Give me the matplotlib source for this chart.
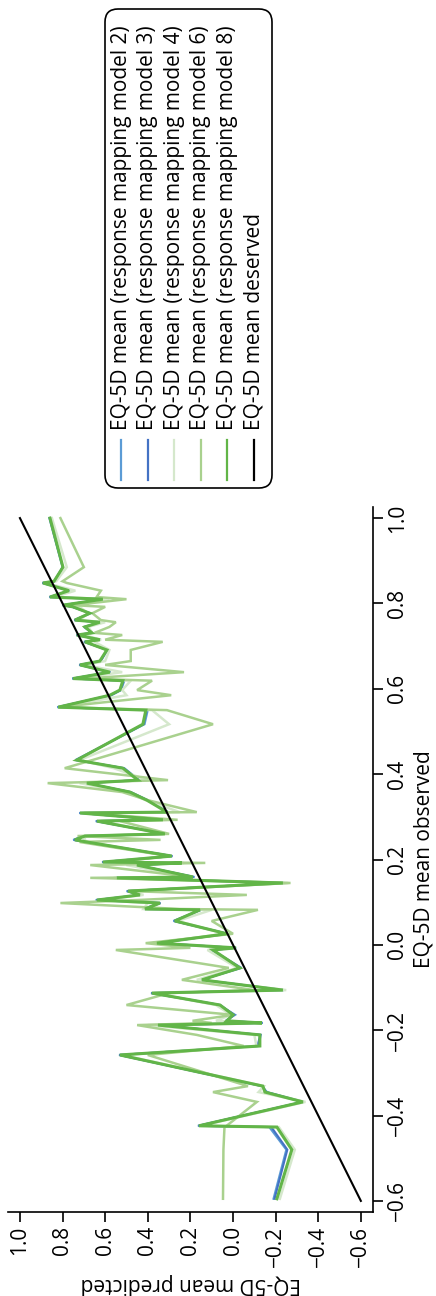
import matplotlib
matplotlib.use('Agg')
import matplotlib.pyplot as plt
from matplotlib.patches import FancyBboxPatch
from matplotlib.lines import Line2D

plt.rcParams['font.family'] = ['Open Sans', 'DejaVu Sans']

# observed EQ-5D means (sorted), shared by all models
observed = [-0.595, -0.480, -0.427, -0.424, -0.368, -0.345, -0.331, -0.258, -0.237, -0.211,
            -0.188, -0.183, -0.178, -0.164, -0.141, -0.113, -0.106, -0.082, -0.054, -0.012,
            -0.007, 0.004, 0.026, 0.056, 0.082, 0.084, 0.098, 0.105, 0.117, 0.126,
            0.145, 0.157, 0.159, 0.187, 0.192, 0.194, 0.208, 0.241, 0.246, 0.255,
            0.260, 0.290, 0.293, 0.309, 0.311, 0.339, 0.358, 0.379, 0.386, 0.414,
            0.433, 0.517, 0.550, 0.557, 0.585, 0.597, 0.619, 0.624, 0.639, 0.656,
            0.665, 0.691, 0.710, 0.715, 0.726, 0.731, 0.745, 0.756, 0.761, 0.777,
            0.792, 0.796, 0.810, 0.815, 0.830, 0.848, 0.852, 0.885, 1.000]

pred_m2 = [-0.190, -0.250, -0.170, 0.165, -0.330, -0.160, -0.135, 0.535, -0.120, -0.130,
           0.355, -0.140, 0.035, -0.010, 0.065, 0.385, -0.240, 0.150, -0.040, 0.100,
           -0.015, 0.360, 0.025, 0.280, 0.150, 0.420, 0.345, 0.645, 0.430, 0.500,
           -0.240, 0.550, 0.180, 0.455, 0.235, 0.615, 0.285, 0.690, 0.750, 0.700,
           0.315, 0.645, 0.325, 0.722, 0.305, 0.400, 0.480, 0.690, 0.440, 0.510,
           0.740, 0.415, 0.400, 0.825, 0.570, 0.525, 0.510, 0.755, 0.575, 0.722,
           0.620, 0.590, 0.700, 0.620, 0.735, 0.660, 0.700, 0.620, 0.745, 0.670,
           0.755, 0.800, 0.605, 0.862, 0.765, 0.895, 0.838, 0.800, 0.862]

pred_m3 = [-0.195, -0.255, -0.180, 0.162, -0.325, -0.155, -0.138, 0.533, -0.115, -0.128,
           0.350, -0.138, 0.030, -0.005, 0.060, 0.383, -0.238, 0.148, -0.035, 0.096,
           -0.012, 0.355, 0.027, 0.276, 0.152, 0.416, 0.340, 0.642, 0.433, 0.497,
           -0.238, 0.548, 0.185, 0.452, 0.238, 0.613, 0.284, 0.688, 0.746, 0.697,
           0.318, 0.642, 0.327, 0.720, 0.307, 0.402, 0.482, 0.688, 0.443, 0.514,
           0.736, 0.420, 0.405, 0.822, 0.575, 0.528, 0.514, 0.753, 0.576, 0.720,
           0.622, 0.591, 0.697, 0.622, 0.734, 0.661, 0.697, 0.622, 0.744, 0.671,
           0.753, 0.799, 0.608, 0.860, 0.768, 0.893, 0.839, 0.799, 0.860]

pred_m4 = [-0.220, -0.290, -0.215, 0.150, -0.340, -0.120, -0.145, 0.520, -0.110, -0.100,
           0.400, -0.120, 0.080, 0.010, 0.080, 0.370, -0.250, 0.170, -0.020, 0.120,
           0.000, 0.370, 0.040, 0.260, 0.100, 0.420, 0.400, 0.620, 0.420, 0.480,
           -0.260, 0.560, 0.200, 0.500, 0.230, 0.600, 0.300, 0.680, 0.700, 0.690,
           0.330, 0.620, 0.310, 0.710, 0.250, 0.410, 0.500, 0.720, 0.400, 0.560,
           0.720, 0.300, 0.380, 0.820, 0.500, 0.520, 0.480, 0.740, 0.520, 0.700,
           0.600, 0.580, 0.650, 0.620, 0.700, 0.660, 0.680, 0.600, 0.720, 0.680,
           0.720, 0.790, 0.580, 0.840, 0.740, 0.880, 0.830, 0.780, 0.850]

pred_m6 = [0.047, 0.045, 0.040, 0.030, -0.112, 0.094, -0.070, 0.400, -0.050, 0.170,
           0.450, 0.100, 0.190, 0.000, 0.500, 0.300, -0.100, 0.240, 0.020, 0.550,
           0.200, 0.410, 0.000, 0.100, -0.117, 0.250, 0.810, 0.450, -0.065, 0.490,
           -0.270, 0.670, 0.190, 0.670, 0.130, 0.550, 0.300, 0.720, 0.340, 0.730,
           0.300, 0.530, 0.260, 0.700, 0.170, 0.400, 0.520, 0.870, 0.305, 0.790,
           0.660, 0.094, 0.310, 0.820, 0.290, 0.450, 0.380, 0.700, 0.230, 0.600,
           0.480, 0.480, 0.330, 0.600, 0.520, 0.650, 0.580, 0.550, 0.620, 0.660,
           0.600, 0.750, 0.500, 0.640, 0.620, 0.780, 0.800, 0.700, 0.810]

pred_m8 = [-0.206, -0.276, -0.206, 0.160, -0.328, -0.150, -0.140, 0.531, -0.126, -0.126,
           0.352, -0.136, 0.029, 0.000, 0.061, 0.381, -0.234, 0.146, -0.032, 0.094,
           -0.014, 0.357, 0.029, 0.273, 0.155, 0.413, 0.343, 0.639, 0.437, 0.493,
           -0.234, 0.545, 0.188, 0.451, 0.240, 0.611, 0.287, 0.686, 0.742, 0.695,
           0.320, 0.639, 0.329, 0.718, 0.310, 0.404, 0.484, 0.686, 0.446, 0.517,
           0.733, 0.423, 0.409, 0.820, 0.578, 0.531, 0.517, 0.751, 0.578, 0.718,
           0.625, 0.592, 0.695, 0.625, 0.733, 0.662, 0.695, 0.625, 0.742, 0.672,
           0.751, 0.798, 0.611, 0.859, 0.770, 0.892, 0.840, 0.798, 0.859]

# line of equality (observed = predicted)
identity = [-0.6, 1.0]

ticks = [-0.6, -0.4, -0.2, 0.0, 0.2, 0.4, 0.6, 0.8, 1.0]
tick_labels = ['\u22120.6', '\u22120.4', '\u22120.2', '0.0', '0.2', '0.4', '0.6', '0.8', '1.0']

labels = ['EQ-5D mean (response mapping model 2)',
          'EQ-5D mean (response mapping model 3)',
          'EQ-5D mean (response mapping model 4)',
          'EQ-5D mean (response mapping model 6)',
          'EQ-5D mean (response mapping model 8)',
          'EQ-5D mean deserved']
colors = ['#5b9bd5', '#4472c4', '#d5e8cc', '#a9d18e', '#62b548', 'black']
widths = [1.5, 1.5, 1.8, 1.8, 2.2, 1.5]
series = [pred_m2, pred_m3, pred_m4, pred_m6, pred_m8]

W, H = 436, 1296
fig = plt.figure(figsize=(W / 100, H / 100), dpi=100)

# the chart is printed turned on its side: predicted runs along the bottom
# (reversed), observed runs up the right-hand side
ax = fig.add_axes([8 / W, (H - 1212) / H, (373 - 8) / W, (1212 - 507) / H])
for pred, c, lw in zip(series, colors, widths):
    ax.plot(pred, observed, color=c, lw=lw, solid_joinstyle='miter')
ax.plot(identity, identity, color='black', lw=1.5)

ax.set_xlim(1.056, -0.657)
ax.set_ylim(-0.626, 1.026)
for s in ['left', 'top']:
    ax.spines[s].set_visible(False)
for s in ['bottom', 'right']:
    ax.spines[s].set_linewidth(1.2)

ax.set_xticks(ticks)
ax.set_xticklabels(tick_labels, rotation=90, fontsize=15)
ax.set_yticks(ticks)
ax.set_yticklabels(tick_labels, rotation=90, fontsize=15, va='center')
ax.yaxis.tick_right()
ax.yaxis.set_label_position('right')
ax.tick_params(length=7, width=1.2, direction='out', pad=3)

ax.set_xlabel('EQ-5D mean predicted', fontsize=15, rotation=180, labelpad=4)
ax.set_ylabel('EQ-5D mean observed', fontsize=15, rotation=90, labelpad=4)

# legend, drawn by hand so it can be turned on its side
tr = fig.dpi_scale_trans
box = FancyBboxPatch((105 / 100, (H - 488) / 100), (272 - 105) / 100, (488 - 9) / 100,
                     boxstyle='round,pad=0,rounding_size=0.13', transform=tr,
                     facecolor='white', edgecolor='black', lw=1.2)
fig.patches.append(box)
for i, (lab, c) in enumerate(zip(labels, colors)):
    xc = (121 + i * 26.6) / 100
    fig.lines.append(Line2D([xc, xc], [(H - 480) / 100, (H - 440) / 100],
                            color=c, lw=1.6, transform=tr))
    fig.text(xc, (H - 430) / 100, lab, transform=tr, rotation=90,
             rotation_mode='anchor', ha='left', va='center', fontsize=15)

fig.savefig('out.png', dpi=100)
